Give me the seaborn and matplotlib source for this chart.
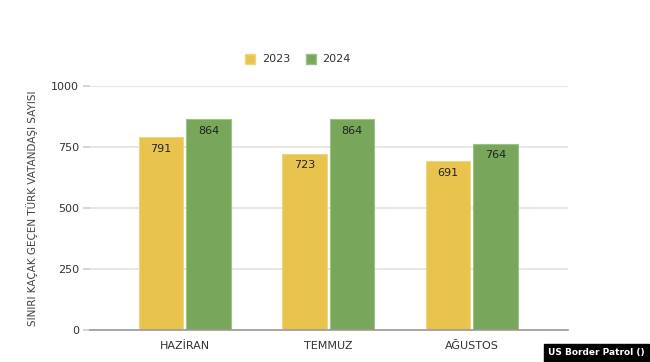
import matplotlib
matplotlib.use("Agg")
import matplotlib.pyplot as plt
import seaborn as sns
import pandas as pd
from matplotlib.patches import Patch

months = ["HAZİRAN", "TEMMUZ", "AĞUSTOS"]
years = ["2023", "2024"]
values_2023 = [791, 723, 691]
values_2024 = [864, 864, 764]
yticks = [0, 250, 500, 750, 1000]
ylabel = "SINIRI KAÇAK GEÇEN TÜRK VATANDAŞI SAYISI"
source = "US Border Patrol ()"

df = pd.DataFrame({
    "month": months * 2,
    "year": [years[0]] * 3 + [years[1]] * 3,
    "value": values_2023 + values_2024,
})

sns.set_theme(style="white")
plt.rcParams['font.family'] = ['DejaVu Sans']

colors = {"2023": "#E8C44F", "2024": "#78A65A"}
edges = {"2023": "#F0D584", "2024": "#9CC285"}

fig = plt.figure(figsize=(6.5, 3.62), dpi=100)
ax = fig.add_axes([90/650, 32/362, 478/650, 244/362])

sns.barplot(data=df, x="month", y="value", hue="year", palette=colors,
            width=0.66, ax=ax, legend=False, saturation=1, zorder=3)

for cont, yr in zip(ax.containers, years):
    for bar in cont:
        w = bar.get_width()
        cx = bar.get_x() + w / 2
        nw = w - 0.022
        bar.set_width(nw)
        bar.set_x(cx - nw / 2)
        bar.set_edgecolor(edges[yr])
        bar.set_linewidth(0.8)
        h = bar.get_height()
        ax.annotate(f"{int(h)}", (cx, h),
                    xytext=(0, -8.5), textcoords="offset points",
                    ha="center", va="center", fontsize=8, color="#222222", zorder=4)

ax.set_ylim(0, 1000)
ax.set_xlim(-0.66, 2.67)
ax.set_yticks(yticks)
ax.set_yticklabels([str(t) for t in yticks])
ax.yaxis.grid(True, color="#E3E3E3", linewidth=1.2, zorder=0)
ax.set_axisbelow(True)
for s in ["top", "right", "left"]:
    ax.spines[s].set_visible(False)
ax.spines["bottom"].set_color("#9A9A9A")
ax.spines["bottom"].set_linewidth(1.2)
ax.spines["bottom"].set_zorder(5)
ax.tick_params(axis="y", length=5, color="#D0D0D0", labelsize=8, labelcolor="#333333", pad=3, left=True)
ax.tick_params(axis="x", length=0, labelsize=8, labelcolor="#333333", pad=8)
ax.set_xlabel("")
ax.set_ylabel(ylabel, fontsize=7.5, color="#444444", labelpad=9)

handles = [Patch(facecolor=colors[y], edgecolor=edges[y], label=y) for y in years]
fig.legend(handles=handles, loc="center", bbox_to_anchor=(298/650, 1 - 59/362),
           ncol=2, frameon=False, fontsize=8, handlelength=0.9, handleheight=1.0,
           handletextpad=0.6, columnspacing=1.4, labelcolor="#333333")

fig.text(645/650, 1 - 353/362, source, ha="right", va="center", fontsize=6.5,
         color="white", fontweight="bold",
         bbox=dict(boxstyle="square,pad=0.45", facecolor="black", edgecolor="black"))

fig.savefig("out.png", dpi=100)
